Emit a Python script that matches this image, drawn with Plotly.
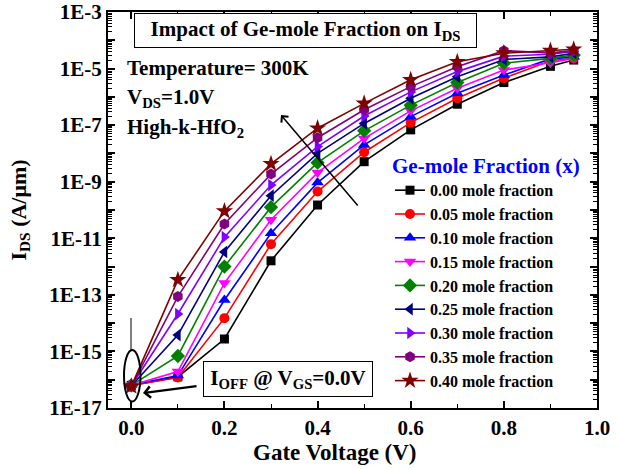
import plotly.graph_objects as go

# ---------------- data ----------------
gate_voltage = [0.0, 0.1, 0.2, 0.3, 0.4, 0.5, 0.6, 0.7, 0.8, 0.9, 0.95]

series_names = ["0.00 mole fraction", "0.05 mole fraction", "0.10 mole fraction",
                "0.15 mole fraction", "0.20 mole fraction", "0.25 mole fraction",
                "0.30 mole fraction", "0.35 mole fraction", "0.40 mole fraction"]

ids_000 = [6.3e-17, 1.26e-16, 2.75e-15, 1.6e-12, 1.5e-10, 5.1e-9, 6.8e-8, 5.5e-7, 3.2e-6, 1.2e-5, 2.0e-5]
ids_005 = [6.3e-17, 1.2e-16, 1.5e-14, 6.2e-12, 4.5e-10, 1.1e-8, 1.23e-7, 8.9e-7, 4.6e-6, 1.9e-5, 2.3e-5]
ids_010 = [6.5e-17, 1.4e-16, 6.6e-14, 1.5e-11, 9.3e-10, 2.0e-8, 2.0e-7, 1.35e-6, 5.9e-6, 2.2e-5, 2.6e-5]
ids_015 = [6.3e-17, 1.95e-16, 2.6e-13, 4.5e-11, 2.1e-9, 3.4e-8, 3.2e-7, 2.0e-6, 8.9e-6, 1.6e-5, 2.3e-5]
ids_020 = [6.3e-17, 6.9e-16, 1.0e-12, 1.26e-10, 4.7e-9, 6.3e-8, 5.1e-7, 3.2e-6, 1.55e-5, 2.3e-5, 3.0e-5]
ids_025 = [6.0e-17, 3.8e-15, 3.3e-12, 3.2e-10, 1.0e-8, 1.15e-7, 8.9e-7, 5.1e-6, 2.1e-5, 2.6e-5, 3.5e-5]
ids_030 = [6.0e-17, 2.1e-14, 1.1e-11, 7.6e-10, 1.74e-8, 2.1e-7, 1.5e-6, 7.8e-6, 2.75e-5, 3.2e-5, 4.0e-5]
ids_035 = [5.8e-17, 8.7e-14, 3.2e-11, 1.86e-9, 3.6e-8, 3.5e-7, 2.3e-6, 1.17e-5, 4.3e-5, 3.6e-5, 4.3e-5]
ids_040 = [5.8e-17, 3.4e-13, 9.1e-11, 4.3e-9, 7.8e-8, 5.9e-7, 4.0e-6, 1.74e-5, 3.5e-5, 4.3e-5, 4.8e-5]

all_series = [ids_000, ids_005, ids_010, ids_015, ids_020, ids_025, ids_030, ids_035, ids_040]

x_tick_vals = [0.0, 0.2, 0.4, 0.6, 0.8, 1.0]
x_tick_text = ["0.0", "0.2", "0.4", "0.6", "0.8", "1.0"]
x_minor_vals = [0.1, 0.3, 0.5, 0.7, 0.9]

y_exponents = list(range(-17, -2))
y_tick_vals = [10.0 ** e for e in y_exponents]
y_tick_text = [("1E%d" % e) if (e % 2 != 0) else "" for e in y_exponents]
y_minor_vals = [k * 10.0 ** e for e in range(-17, -3) for k in range(2, 10)]

# ---------------- style ----------------
colors = ["#000000", "#FF0000", "#0000FF", "#FF00FF", "#008000",
          "#000080", "#8000FF", "#800080", "#800000"]
symbols = ["square", "circle", "triangle-up", "triangle-down", "diamond",
           "triangle-left", "triangle-right", "hexagon", "star"]
sizes = [9, 10, 11, 11, 11, 11, 11, 11, 13]

FONT = "Liberation Serif"

# plot-area geometry (pixels)
L, R, T, B = 108, 597, 12, 408
W, H = R - L, B - T


def px(xp):
    return (xp - L) / W


def py(yp):
    return (B - yp) / H


fig = go.Figure()
for name, ys, c, s, sz in zip(series_names, all_series, colors, symbols, sizes):
    fig.add_trace(go.Scatter(
        x=gate_voltage, y=ys, name=name, mode="lines+markers",
        line=dict(color=c, width=1.6),
        marker=dict(symbol=s, size=sz, color=c, line=dict(width=0)),
    ))

axis_common = dict(
    showline=True, linecolor="black", linewidth=2, mirror="allticks",
    ticks="inside", ticklen=7, tickwidth=1.5, tickcolor="black",
    showgrid=False, zeroline=False, automargin=False,
    tickfont=dict(family=FONT, size=21, color="black", weight="bold"),
)

fig.update_xaxes(
    **axis_common,
    range=[-0.05, 1.0],
    tickmode="array", tickvals=x_tick_vals, ticktext=x_tick_text,
    minor=dict(tickmode="array", tickvals=x_minor_vals, ticks="inside",
               ticklen=4, tickwidth=1.2, tickcolor="black"),
)
fig.update_yaxes(
    **axis_common,
    type="log", range=[-17, -3],
    tickmode="array", tickvals=y_tick_vals, ticktext=y_tick_text,
    minor=dict(tickmode="array", tickvals=y_minor_vals, ticks="inside",
               ticklen=4, tickwidth=1.0, tickcolor="black"),
    title=dict(text="I<sub>DS</sub> (A/μm)", standoff=17,
               font=dict(family=FONT, size=22, color="black", weight="bold")),
)

annot_font = dict(family=FONT, size=21, color="black", weight="bold")
annotations = [
    dict(text="Impact of Ge-mole Fraction on I<sub>DS</sub>", xref="paper", yref="paper",
         x=px(305.5), y=py(30.5), xanchor="center", yanchor="middle", showarrow=False,
         width=341, height=33, borderpad=0, bordercolor="black", borderwidth=1,
         bgcolor="white", font=annot_font),
    dict(text="Temperature= 300K", xref="paper", yref="paper",
         x=px(125), y=py(68), xanchor="left", yanchor="middle", showarrow=False,
         font=annot_font),
    dict(text="V<sub>DS</sub>=1.0V", xref="paper", yref="paper",
         x=px(125), y=py(98), xanchor="left", yanchor="middle", showarrow=False,
         font=annot_font),
    dict(text="High-k-HfO<sub>2</sub>", xref="paper", yref="paper",
         x=px(125), y=py(128), xanchor="left", yanchor="middle", showarrow=False,
         font=annot_font),
    dict(text="I<sub>OFF</sub> @ V<sub>GS</sub>=0.0V", xref="paper", yref="paper",
         x=px(288), y=py(379), xanchor="center", yanchor="middle", showarrow=False,
         width=168, height=34, borderpad=0, bordercolor="black", borderwidth=1,
         bgcolor="white", font=annot_font),
    # x-axis title
    dict(text="Gate Voltage (V)", xref="paper", yref="paper",
         x=px(335), y=py(452), xanchor="center", yanchor="middle", showarrow=False,
         font=dict(family=FONT, size=23, color="black", weight="bold")),
    # arrow across the curves
    dict(text="", xref="paper", yref="paper",
         x=px(281), y=py(115), ax=78, ay=92,
         showarrow=True, arrowhead=4, arrowsize=1.2, arrowwidth=1.5, arrowcolor="black"),
    # arrow pointing to the I_OFF ellipse
    dict(text="", xref="paper", yref="paper",
         x=px(143), y=py(393), ax=55, ay=-7,
         showarrow=True, arrowhead=4, arrowsize=1.0, arrowwidth=2.2, arrowcolor="black"),
]

shapes = [
    dict(type="circle", xref="paper", yref="paper",
         x0=px(124), x1=px(140.5), y0=py(401.5), y1=py(350),
         line=dict(color="black", width=2)),
    dict(type="line", xref="paper", yref="paper",
         x0=px(131), x1=px(131), y0=py(350), y1=py(318),
         line=dict(color="black", width=1)),
]

fig.update_layout(
    width=617, height=469,
    margin=dict(l=L, r=617 - R, t=T, b=469 - B, autoexpand=False),
    paper_bgcolor="white", plot_bgcolor="white",
    annotations=annotations, shapes=shapes,
    showlegend=True,
    legend=dict(
        x=px(390), y=py(146), xanchor="left", yanchor="top",
        bgcolor="rgba(0,0,0,0)", borderwidth=0,
        font=dict(family=FONT, size=16, color="black", weight="bold"),
        title=dict(text="Ge-mole Fraction (x)",
                   font=dict(family=FONT, size=21, color="#0000FF", weight="bold")),
        tracegroupgap=0,
    ),
)

fig.write_html("out.html")
